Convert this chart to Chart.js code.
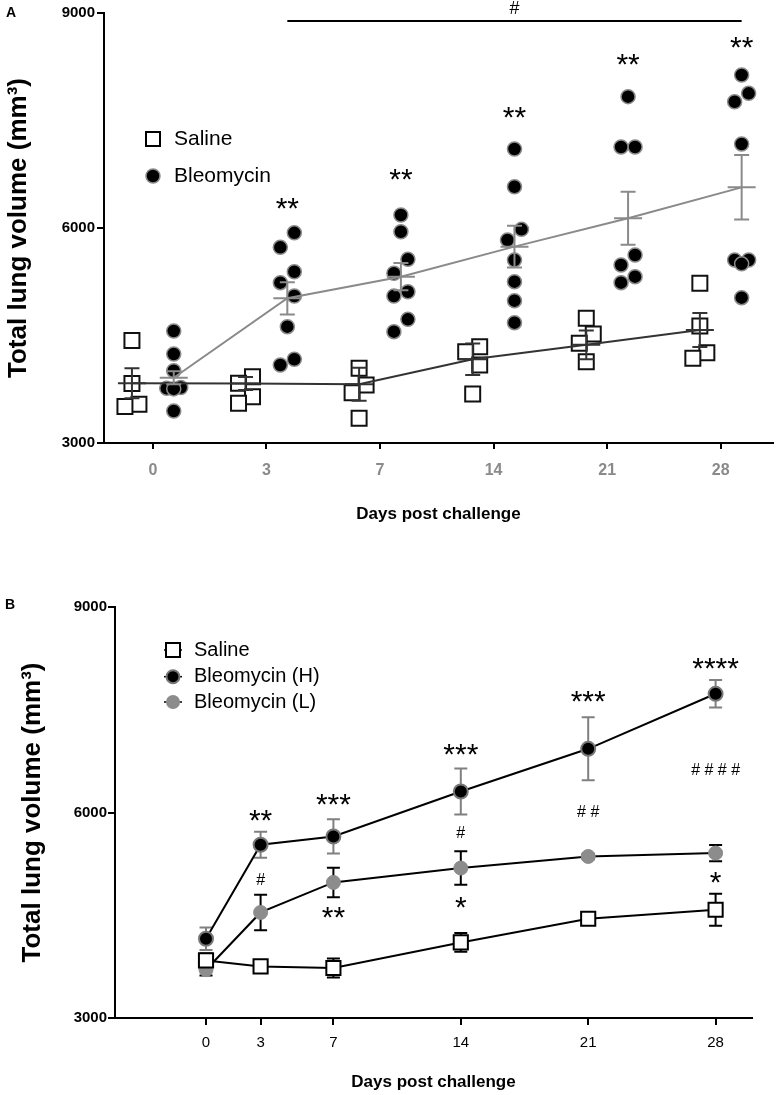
<!DOCTYPE html>
<html>
<head>
<meta charset="utf-8">
<script src="https://cdn.jsdelivr.net/npm/chart.js@4.4.1/dist/chart.umd.min.js"></script>
<style>
  body { margin: 0; background: #fff; }
  #cajaA { position: absolute; left: 0; top: 0; width: 777px; height: 530px; }
  #cajaB { position: absolute; left: 0; top: 530px; width: 777px; height: 565px; }
</style>
</head>
<body>
<div id="cajaA"><canvas id="graficaA" width="777" height="530"></canvas></div>
<div id="cajaB"><canvas id="graficaB" width="777" height="565"></canvas></div>
<script>
// ---------- Datos panel A ----------
const diasA = ['0', '3', '7', '14', '21', '28'];

const salinaPuntos = [
  [4430, 3830, 3540, 3510],
  [3925, 3833, 3646, 3553],
  [4042, 3809, 3702, 3344],
  [4344, 4274, 4088, 3684],
  [4740, 4521, 4391, 4135],
  [5228, 4633, 4260, 4181]
];
const bleoPuntos = [
  [4563, 4242, 4009, 3775, 3763, 3755, 3446],
  [5933, 5730, 5390, 5237, 5051, 4623, 4168, 4088],
  [6181, 5948, 5563, 5368, 5111, 5051, 4726, 4553],
  [7102, 6576, 5981, 5833, 5553, 5251, 4986, 4679],
  [7833, 7130, 7130, 5623, 5484, 5321, 5237],
  [8135, 7879, 7762, 7172, 5553, 5553, 5500, 5028]
];
const salinaMedia = [3833, 3830, 3820, 4170, 4370, 4577];
const salinaSem = [210, 90, 230, 220, 200, 237];
const bleoMedia = [3911, 5019, 5321, 5740, 6135, 6567];
const bleoSem = [90, 225, 190, 290, 370, 450];

const sigA = ['', '**', '**', '**', '**', '**'];
const sigA_valor = [null, 6335, 6740, 7605, 8345, 8595];
// barra de significancia "#" (de dia 3 a dia 28)
const barraA_desde = 1;
const barraA_hasta = 5;
const barraA_valor = 8890;

// ---------- Datos panel B ----------
const diasB = [0, 3, 7, 14, 21, 28];
const salinaB = [3841, 3753, 3730, 4103, 4449, 4580];
const salinaB_sem = [100, 60, 140, 137, 60, 235];
const bleoH = [4157, 5529, 5650, 6307, 6930, 7733];
const bleoH_sem = [165, 190, 250, 335, 460, 200];
const bleoL = [3705, 4541, 4979, 5189, 5358, 5407];
const bleoL_sem = [85, 260, 215, 245, 40, 120];

const sigB_H = ['', '**', '***', '***', '***', '****'];
const sigB_H_valor = [null, 5950, 6190, 6920, 7690, 8170];
const sigB_gato = ['', '#', '', '#', '# #', '# # # #'];
const sigB_gato_valor = [null, 5030, null, 5710, 6015, 6640];
const sigB_L = ['', '', '**', '*', '', '*'];
const sigB_L_valor = [null, null, 4540, 4690, null, 5050];

// ---------- Estilo ----------
const familia = "'Liberation Sans', Arial, Helvetica, sans-serif";
Chart.defaults.font.family = familia;
Chart.defaults.color = '#000';

const DESV_A = 0.184;          // separacion saline / bleomycin en cada dia
const PX_A = 430 / 6000;       // px por unidad en el eje y de A
const DIAM_A = 15;
const PASO_A = 7 / 113.6;      // desplazamiento lateral de puntos que se enciman

// Acomoda puntos cercanos en carriles (como un beeswarm sencillo)
function carriles(vals) {
  const orden = vals.slice().sort((a, b) => b - a);
  const res = [];
  let signo = 1;
  orden.forEach((v, i) => {
    const antes = i > 0 ? (orden[i - 1] - v) * PX_A : Infinity;
    const despues = i < orden.length - 1 ? (v - orden[i + 1]) * PX_A : Infinity;
    let c = 0;
    if (antes < DIAM_A || despues < DIAM_A) {
      if (antes >= DIAM_A) signo = 1;
      const pref = signo;
      signo = -signo;
      const choca = k => res.some(p => Math.hypot((p.c - k) * 7, (p.v - v) * PX_A) < DIAM_A * 0.45);
      c = [pref, 0, -pref, 2 * pref, -2 * pref].find(k => !choca(k));
    }
    res.push({ v: v, c: c });
  });
  return res;
}

function puntosGrupo(grupos, desv) {
  const out = [];
  grupos.forEach((g, i) => {
    carriles(g).forEach(p => out.push({ x: i + desv + p.c * PASO_A, y: p.v }));
  });
  return out;
}

function textoCentrado(ctx, txt, x, yc, font, color) {
  ctx.font = font;
  ctx.fillStyle = color;
  ctx.textAlign = 'center';
  ctx.textBaseline = 'alphabetic';
  const m = ctx.measureText(txt);
  ctx.fillText(txt, x, yc + (m.actualBoundingBoxAscent - m.actualBoundingBoxDescent) / 2);
}

function textoIzq(ctx, txt, x, yc, font) {
  ctx.font = font;
  ctx.fillStyle = '#000';
  ctx.textAlign = 'left';
  ctx.textBaseline = 'middle';
  ctx.fillText(txt, x, yc);
}

// sin relleno lateral extra en el eje x
function ajusteX(alto) {
  return s => { s.height = alto; s.paddingLeft = 0; s.paddingRight = 0; };
}

// media + error estandar de cada grupo del panel A
function mediasA(ctx, x, y, medias, sems, desv, color) {
  ctx.strokeStyle = color;
  ctx.lineWidth = 2;
  medias.forEach((m, i) => {
    const px = x.getPixelForValue(i + desv);
    const ym = y.getPixelForValue(m);
    const yt = y.getPixelForValue(m + sems[i]);
    const yb = y.getPixelForValue(m - sems[i]);
    ctx.beginPath();
    ctx.moveTo(px, yt); ctx.lineTo(px, yb);
    ctx.moveTo(px - 7.5, yt); ctx.lineTo(px + 7.5, yt);
    ctx.moveTo(px - 7.5, yb); ctx.lineTo(px + 7.5, yb);
    ctx.moveTo(px - 14, ym); ctx.lineTo(px + 14, ym);
    ctx.stroke();
  });
}

const extrasA = {
  id: 'extrasA',
  afterDatasetsDraw(chart) {
    const { ctx, scales: { x, y } } = chart;
    ctx.save();
    mediasA(ctx, x, y, salinaMedia, salinaSem, -DESV_A, '#333');
    mediasA(ctx, x, y, bleoMedia, bleoSem, DESV_A, '#8a8a8a');

    sigA.forEach((t, i) => {
      if (t) textoCentrado(ctx, t, x.getPixelForValue(i + DESV_A), y.getPixelForValue(sigA_valor[i]), '30px ' + familia, '#000');
    });

    const x1 = x.getPixelForValue(barraA_desde + DESV_A);
    const x2 = x.getPixelForValue(barraA_hasta + DESV_A);
    const yb = y.getPixelForValue(barraA_valor);
    ctx.strokeStyle = '#000';
    ctx.lineWidth = 2;
    ctx.beginPath();
    ctx.moveTo(x1, yb); ctx.lineTo(x2, yb);
    ctx.stroke();
    textoCentrado(ctx, '#', (x1 + x2) / 2, yb - 13, '18px ' + familia, '#000');

    // leyenda
    ctx.lineWidth = 2;
    ctx.fillStyle = '#fff';
    ctx.strokeStyle = '#000';
    ctx.fillRect(146, 132, 14, 14);
    ctx.strokeRect(146, 132, 14, 14);
    ctx.beginPath();
    ctx.arc(153, 176, 7, 0, Math.PI * 2);
    ctx.fillStyle = '#000';
    ctx.fill();
    ctx.lineWidth = 1.5;
    ctx.strokeStyle = '#8a8a8a';
    ctx.stroke();
    textoIzq(ctx, 'Saline', 174, 139, '21px ' + familia);
    textoIzq(ctx, 'Bleomycin', 174, 176, '21px ' + familia);

    textoCentrado(ctx, 'A', 11, 12, 'bold 14px ' + familia, '#000');
    ctx.restore();
  }
};

new Chart(document.getElementById('graficaA'), {
  type: 'scatter',
  data: {
    datasets: [
      {
        label: 'Saline',
        data: puntosGrupo(salinaPuntos, -DESV_A),
        pointStyle: 'rect',
        pointRadius: 10.6,
        backgroundColor: '#fff',
        borderColor: '#111',
        borderWidth: 2,
        order: 3
      },
      {
        label: 'Bleomycin',
        data: puntosGrupo(bleoPuntos, DESV_A),
        pointStyle: 'circle',
        pointRadius: 7,
        backgroundColor: '#000',
        borderColor: '#8a8a8a',
        borderWidth: 1.5,
        order: 2
      },
      {
        type: 'line',
        label: 'Saline media',
        data: salinaMedia.map((m, i) => ({ x: i - DESV_A, y: m })),
        borderColor: '#333',
        borderWidth: 2,
        pointRadius: 0,
        order: 1
      },
      {
        type: 'line',
        label: 'Bleomycin media',
        data: bleoMedia.map((m, i) => ({ x: i + DESV_A, y: m })),
        borderColor: '#8a8a8a',
        borderWidth: 2,
        pointRadius: 0,
        order: 0
      }
    ]
  },
  options: {
    responsive: false,
    animation: false,
    events: [],
    layout: { autoPadding: false, padding: { top: 13, right: 4, left: 0, bottom: 0 } },
    plugins: { legend: { display: false }, tooltip: { enabled: false } },
    scales: {
      x: {
        type: 'linear',
        min: -0.43,
        max: 5.46,
        afterBuildTicks: s => { s.ticks = diasA.map((d, i) => ({ value: i })); },
        afterFit: ajusteX(87),
        ticks: {
          callback: v => diasA[v],
          color: '#8a8a8a',
          font: { size: 16, weight: 'bold' },
          padding: 12,
          autoSkip: false,
          maxRotation: 0
        },
        grid: { drawOnChartArea: false, drawTicks: true, tickLength: 6, color: '#000', lineWidth: 2 },
        border: { display: true, color: '#000', width: 2 },
        title: { display: true, text: 'Days post challenge', color: '#000', font: { size: 17, weight: 'bold' }, padding: { top: 0, bottom: 5 } }
      },
      y: {
        min: 3000,
        max: 9000,
        afterFit: s => { s.width = 104; },
        ticks: { stepSize: 3000, callback: v => String(v), color: '#000', font: { size: 15, weight: 'bold' }, padding: 2 },
        grid: { drawOnChartArea: false, drawTicks: true, tickLength: 7, color: '#000', lineWidth: 2 },
        border: { display: true, color: '#000', width: 2 },
        title: { display: true, text: 'Total lung volume (mm³)', color: '#000', font: { size: 26, weight: 'bold' }, padding: { top: 3, bottom: 0 } }
      }
    }
  },
  plugins: [extrasA]
});

// ---------- Panel B ----------
function barrasB(ctx, x, y, medias, sems, color) {
  ctx.strokeStyle = color;
  ctx.lineWidth = 2;
  medias.forEach((m, i) => {
    const px = x.getPixelForValue(diasB[i]);
    const yt = y.getPixelForValue(m + sems[i]);
    const yb = y.getPixelForValue(m - sems[i]);
    ctx.beginPath();
    ctx.moveTo(px, yt); ctx.lineTo(px, yb);
    ctx.moveTo(px - 6.5, yt); ctx.lineTo(px + 6.5, yt);
    ctx.moveTo(px - 6.5, yb); ctx.lineTo(px + 6.5, yb);
    ctx.stroke();
  });
}

function etiquetasB(ctx, x, y, textos, valores, font) {
  textos.forEach((t, i) => {
    if (t) textoCentrado(ctx, t, x.getPixelForValue(diasB[i]), y.getPixelForValue(valores[i]), font, '#000');
  });
}

const extrasB = {
  id: 'extrasB',
  beforeDatasetsDraw(chart) {
    const { ctx, scales: { x, y } } = chart;
    ctx.save();
    barrasB(ctx, x, y, bleoL, bleoL_sem, '#000');
    barrasB(ctx, x, y, bleoH, bleoH_sem, '#808080');
    barrasB(ctx, x, y, salinaB, salinaB_sem, '#000');
    ctx.restore();
  },
  afterDatasetsDraw(chart) {
    const { ctx, scales: { x, y } } = chart;
    ctx.save();
    etiquetasB(ctx, x, y, sigB_H, sigB_H_valor, '30px ' + familia);
    etiquetasB(ctx, x, y, sigB_L, sigB_L_valor, '30px ' + familia);
    etiquetasB(ctx, x, y, sigB_gato, sigB_gato_valor, '16px ' + familia);

    // leyenda
    const filas = [120, 146.7, 172];
    ctx.strokeStyle = '#000';
    ctx.lineWidth = 1.5;
    filas.forEach(fy => {
      ctx.beginPath();
      ctx.moveTo(164, fy); ctx.lineTo(182, fy);
      ctx.stroke();
    });
    ctx.lineWidth = 2;
    ctx.fillStyle = '#fff';
    ctx.fillRect(166, 113, 14, 14);
    ctx.strokeRect(166, 113, 14, 14);
    ctx.beginPath();
    ctx.arc(173, filas[1], 6.5, 0, Math.PI * 2);
    ctx.fillStyle = '#000';
    ctx.fill();
    ctx.strokeStyle = '#777';
    ctx.stroke();
    ctx.beginPath();
    ctx.arc(173, filas[2], 7, 0, Math.PI * 2);
    ctx.fillStyle = '#8c8c8c';
    ctx.fill();
    textoIzq(ctx, 'Saline', 194, filas[0], '20px ' + familia);
    textoIzq(ctx, 'Bleomycin (H)', 194, filas[1], '20px ' + familia);
    textoIzq(ctx, 'Bleomycin (L)', 194, filas[2], '20px ' + familia);

    textoCentrado(ctx, 'B', 10, 74, 'bold 14px ' + familia, '#000');
    ctx.restore();
  }
};

new Chart(document.getElementById('graficaB'), {
  type: 'line',
  data: {
    datasets: [
      {
        label: 'Saline',
        data: diasB.map((d, i) => ({ x: d, y: salinaB[i] })),
        borderColor: '#000',
        borderWidth: 2,
        pointStyle: 'rect',
        pointRadius: 10,
        pointBackgroundColor: '#fff',
        pointBorderColor: '#000',
        pointBorderWidth: 2,
        order: 0
      },
      {
        label: 'Bleomycin (H)',
        data: diasB.map((d, i) => ({ x: d, y: bleoH[i] })),
        borderColor: '#000',
        borderWidth: 2,
        pointStyle: 'circle',
        pointRadius: 7,
        pointBackgroundColor: '#000',
        pointBorderColor: '#777',
        pointBorderWidth: 2,
        order: 1
      },
      {
        label: 'Bleomycin (L)',
        data: diasB.map((d, i) => ({ x: d, y: bleoL[i] })),
        borderColor: '#000',
        borderWidth: 2,
        pointStyle: 'circle',
        pointRadius: 7,
        pointBackgroundColor: '#8c8c8c',
        pointBorderColor: '#8c8c8c',
        pointBorderWidth: 1,
        order: 2
      }
    ]
  },
  options: {
    responsive: false,
    animation: false,
    events: [],
    layout: { autoPadding: false, padding: { top: 77, right: 25, left: 0, bottom: 0 } },
    plugins: { legend: { display: false }, tooltip: { enabled: false } },
    scales: {
      x: {
        type: 'linear',
        min: -5,
        max: 30,
        afterBuildTicks: s => { s.ticks = diasB.map(d => ({ value: d })); },
        afterFit: ajusteX(77),
        ticks: { callback: v => String(v), color: '#000', font: { size: 15 }, padding: 9, autoSkip: false, maxRotation: 0 },
        grid: { drawOnChartArea: false, drawTicks: true, tickLength: 7, color: '#000', lineWidth: 2 },
        border: { display: true, color: '#000', width: 2 },
        title: { display: true, text: 'Days post challenge', color: '#000', font: { size: 17, weight: 'bold' }, padding: { top: 0, bottom: 2 } }
      },
      y: {
        min: 3000,
        max: 9000,
        afterFit: s => { s.width = 115; },
        ticks: { stepSize: 3000, callback: v => String(v), color: '#000', font: { size: 15, weight: 'bold' }, padding: 1 },
        grid: { drawOnChartArea: false, drawTicks: true, tickLength: 7, color: '#000', lineWidth: 2 },
        border: { display: true, color: '#000', width: 2 },
        title: { display: true, text: 'Total lung volume (mm³)', color: '#000', font: { size: 26, weight: 'bold' }, padding: { top: 17, bottom: 0 } }
      }
    }
  },
  plugins: [extrasB]
});
</script>
</body>
</html>
